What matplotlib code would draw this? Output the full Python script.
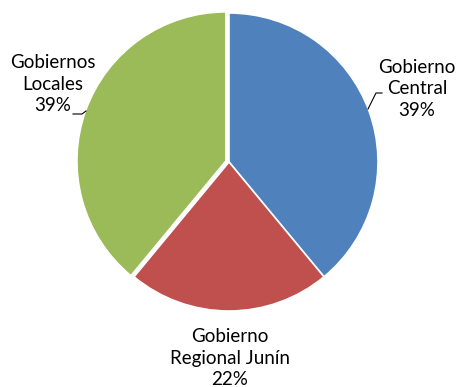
import numpy as np
import matplotlib.pyplot as plt

# data
labels = ['Gobierno\nCentral\n39%', 'Gobierno\nRegional Junín\n22%', 'Gobiernos\nLocales\n39%']
values = [39, 22, 39]
colors = ['#4F81BD', '#C0504D', '#9BBB59']
explode = [0, 0, 0.022]

W, H = 457, 387
cx, cy, r = 229, 162, 149  # pie centre and radius in pixels (from top)


def px(x, y):
    # pixel position -> data coords
    return (x - cx) / r, (cy - y) / r


fig = plt.figure(figsize=(W / 100, H / 100), dpi=100)
ax = fig.add_axes([0, 0, 1, 1])
ax.pie(values, colors=colors, startangle=90, counterclock=False, explode=explode,
       wedgeprops=dict(edgecolor='white', linewidth=1.2))
ax.set_xlim(-cx / r, (W - cx) / r)
ax.set_ylim(-(H - cy) / r, cy / r)
ax.axis('off')

font = dict(family=['Lato', 'DejaVu Sans'], fontsize=13.5, ha='center', va='center', linespacing=1.35)
ax.text(*px(417, 89), labels[0], **font)
ax.text(*px(230, 358), labels[1], **font)
ax.text(*px(53, 84), labels[2], **font)

# leader lines
x1, y1 = px(368, 109)
x2, y2 = px(376, 93)
x3, y3 = px(382, 93)
ax.plot([x1, x2, x3], [y1, y2, y3], color='black', lw=0.8)
x1, y1 = px(73, 114)
x2, y2 = px(82, 114)
x3, y3 = px(86, 111)
ax.plot([x1, x2, x3], [y1, y2, y3], color='black', lw=0.8)

fig.savefig('out.png', dpi=100)
